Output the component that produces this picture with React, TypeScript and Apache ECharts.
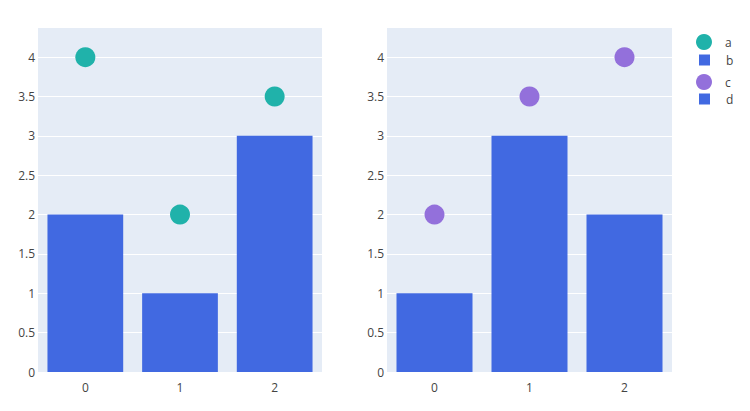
import React, { useEffect, useRef } from "react";
import * as echarts from "echarts";

const categories = ["0", "1", "2"];
const aValues = [4, 2, 3.5];
const bValues = [2, 1, 3];
const cValues = [2, 3.5, 4];
const dValues = [1, 3, 2];
const yMax = 4.37;

const TEAL = "#20B2AA";
const BLUE = "#4169E1";
const PURPLE = "#9370DB";
const FONT = "'Open Sans', sans-serif";

const App: React.FC = () => {
    const ref = useRef<HTMLDivElement | null>(null);

    useEffect(() => {
        if (!ref.current) return;
        const chart = echarts.init(ref.current, undefined, { renderer: "svg" });

        const xAxis = (gridIndex: number) => ({
            type: "category" as const,
            gridIndex,
            data: categories,
            axisLine: { show: false },
            axisTick: { show: false },
            axisLabel: { color: "#444", fontSize: 12, fontFamily: FONT, margin: 9 },
            splitLine: { show: false },
        });
        const yAxis = (gridIndex: number) => ({
            type: "value" as const,
            gridIndex,
            min: 0,
            max: yMax,
            interval: 0.5,
            axisLine: { show: false },
            axisTick: { show: false },
            axisLabel: { color: "#444", fontSize: 12, fontFamily: FONT, margin: 3, showMaxLabel: false },
            splitLine: { lineStyle: { color: "#fff", width: 1 }, showMaxLine: false },
        });

        // one legend per entry so circles and squares can have their own sizes
        const legendItem = (name: string, top: number, circle: boolean) => ({
            orient: "vertical" as const,
            left: circle ? 696 : 699,
            top,
            padding: 0,
            selectedMode: false,
            itemWidth: circle ? 16 : 11,
            itemHeight: circle ? 16 : 11,
            data: [{ name, icon: circle ? "circle" : "rect" }],
            textStyle: {
                color: "#444",
                fontSize: 12,
                fontFamily: FONT,
                padding: [0, 0, 0, circle ? 8 : 11],
            },
        });

        chart.setOption({
            animation: false,
            grid: [
                { left: 38, top: 28, width: 284, height: 344, show: true, backgroundColor: "#E5ECF6", borderWidth: 0 },
                { left: 387, top: 28, width: 285, height: 344, show: true, backgroundColor: "#E5ECF6", borderWidth: 0 },
            ],
            xAxis: [xAxis(0), xAxis(1)],
            yAxis: [yAxis(0), yAxis(1)],
            legend: [
                legendItem("a", 34, true),
                legendItem("b", 54, false),
                legendItem("c", 74, true),
                legendItem("d", 93, false),
            ],
            series: [
                {
                    name: "a",
                    type: "scatter",
                    xAxisIndex: 0,
                    yAxisIndex: 0,
                    data: aValues,
                    symbolSize: 20,
                    itemStyle: { color: TEAL, opacity: 1 },
                    z: 5,
                },
                {
                    name: "b",
                    type: "bar",
                    xAxisIndex: 0,
                    yAxisIndex: 0,
                    data: bValues,
                    barCategoryGap: "20%",
                    itemStyle: { color: BLUE },
                    z: 2,
                },
                {
                    name: "c",
                    type: "scatter",
                    xAxisIndex: 1,
                    yAxisIndex: 1,
                    data: cValues,
                    symbolSize: 20,
                    itemStyle: { color: PURPLE, opacity: 1 },
                    z: 5,
                },
                {
                    name: "d",
                    type: "bar",
                    xAxisIndex: 1,
                    yAxisIndex: 1,
                    data: dValues,
                    barCategoryGap: "20%",
                    itemStyle: { color: BLUE },
                    z: 2,
                },
            ],
        });

        return () => {
            chart.dispose();
        };
    }, []);

    return (
        <div
            ref={ref}
            style={{ position: "fixed", left: 0, top: 0, width: 750, height: 411, background: "#fff" }}
        />
    );
};

export default App;
